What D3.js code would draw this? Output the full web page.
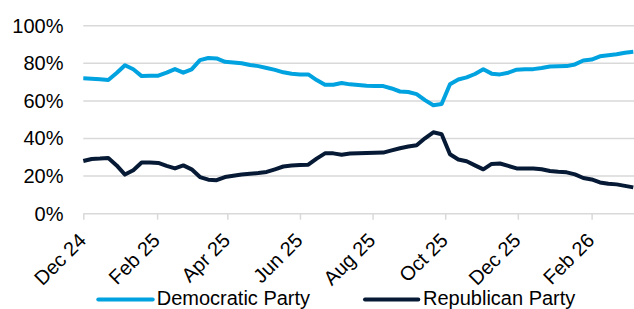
<!DOCTYPE html>
<html>
<head>
<meta charset="utf-8">
<script src="https://cdn.jsdelivr.net/npm/d3@7"></script>
<style>
  html, body { margin: 0; padding: 0; background: #fff; }
  svg { display: block; font-family: "Liberation Sans", Arial, sans-serif; }
</style>
</head>
<body>
<svg id="chart" width="634" height="309"></svg>
<script>
// Weekly observations, first week starting 1 Dec 2024
const startDate = "2024-12-01";
const democratic = [72.0, 71.8, 71.5, 71.1, 74.8, 79.0, 76.8, 73.2, 73.4, 73.4,
  75.0, 76.9, 75.0, 76.8, 81.7, 82.8, 82.6, 80.8, 80.4, 80.0,
  79.1, 78.5, 77.5, 76.5, 75.2, 74.4, 74.1, 74.1, 71.1, 68.6,
  68.6, 69.5, 68.8, 68.4, 68.0, 67.9, 67.9, 66.6, 65.0, 64.7,
  63.6, 60.4, 57.7, 58.3, 68.9, 71.4, 72.5, 74.3, 76.8, 74.5,
  74.1, 75.0, 76.6, 76.8, 76.9, 77.5, 78.3, 78.4, 78.5, 79.4,
  81.5, 82.0, 83.7, 84.3, 84.8, 85.6, 86.1];
const republican = [28.0, 29.1, 29.3, 29.6, 25.7, 20.8, 23.1, 27.2, 27.2, 27.0,
  25.4, 24.1, 25.7, 23.6, 19.5, 18.1, 17.8, 19.5, 20.2, 20.9,
  21.3, 21.6, 22.2, 23.6, 25.1, 25.6, 25.9, 26.1, 29.3, 32.1,
  32.1, 31.4, 32.0, 32.2, 32.3, 32.4, 32.5, 33.7, 34.8, 35.7,
  36.4, 40.1, 43.3, 42.3, 31.6, 28.8, 27.9, 25.7, 23.6, 26.5,
  26.7, 25.4, 24.1, 24.1, 24.1, 23.6, 22.7, 22.3, 22.0, 20.9,
  19.0, 18.2, 16.6, 15.9, 15.6, 14.8, 14.0];
const seriesNames = ["Democratic Party", "Republican Party"];
const seriesColors = ["#00a2df", "#071a35"];
const xTickDates = ["2024-12-01", "2025-02-01", "2025-04-01", "2025-06-01",
  "2025-08-01", "2025-10-01", "2025-12-01", "2026-02-01"];
const xTickLabels = ["Dec 24", "Feb 25", "Apr 25", "Jun 25", "Aug 25", "Oct 25", "Dec 25", "Feb 26"];
const yTicks = [0, 0.2, 0.4, 0.6, 0.8, 1.0];

const parse = d3.utcParse("%Y-%m-%d");
const start = parse(startDate);
const dates = democratic.map((_, i) => d3.utcDay.offset(start, 7 * i));

const svg = d3.select("#chart");
const x = d3.scaleUtc()
  .domain([dates[0], dates[dates.length - 1]])
  .range([83.3, 633.3]);
const y = d3.scaleLinear().domain([0, 1]).range([213.7, 25.7]);

const gridColor = "#d9d9d9";

// gridlines
svg.append("g")
  .selectAll("line")
  .data(yTicks.filter(d => d > 0))
  .join("line")
  .attr("x1", 83.3).attr("x2", 634)
  .attr("y1", d => y(d)).attr("y2", d => y(d))
  .attr("stroke", gridColor).attr("stroke-width", 1.5);

// y axis labels
const yAxis = d3.axisLeft(y).tickValues(yTicks).tickSize(0).tickPadding(0)
  .tickFormat(d3.format(".0%"));
const gy = svg.append("g").attr("transform", "translate(63.5,0)").call(yAxis);
gy.select(".domain").remove();
gy.selectAll("text").attr("font-size", 20).attr("fill", "#000")
  .attr("font-family", "Liberation Sans, Arial, sans-serif");

// x axis
const xAxis = d3.axisBottom(x)
  .tickValues(xTickDates.map(parse))
  .tickSize(6)
  .tickFormat((d, i) => xTickLabels[i]);
const gx = svg.append("g").attr("transform", `translate(0,${y(0)})`).call(xAxis);
gx.select(".domain").attr("d", `M83.3,0H634`).attr("stroke", gridColor).attr("stroke-width", 1.5);
gx.selectAll(".tick line").attr("stroke", gridColor).attr("stroke-width", 1.5);
gx.selectAll("text")
  .attr("font-size", 20).attr("fill", "#000")
  .attr("font-family", "Liberation Sans, Arial, sans-serif")
  .attr("text-anchor", "end")
  .attr("y", 0).attr("dy", 0)
  .attr("transform", "translate(3.5,28) rotate(-45)");

// lines
const series = [democratic, republican];
const line = d3.line()
  .x((d, i) => x(dates[i]))
  .y(d => y(d / 100));
svg.append("g")
  .selectAll("path")
  .data(series)
  .join("path")
  .attr("d", d => line(d))
  .attr("fill", "none")
  .attr("stroke", (d, i) => seriesColors[i])
  .attr("stroke-width", 4)
  .attr("stroke-linejoin", "round");

// legend
const legendItems = [
  { name: seriesNames[0], color: seriesColors[0], x1: 98.3, x2: 152.7, tx: 156.7 },
  { name: seriesNames[1], color: seriesColors[1], x1: 365, x2: 418.3, tx: 423 }
];
const lg = svg.append("g");
legendItems.forEach(it => {
  lg.append("line")
    .attr("x1", it.x1).attr("x2", it.x2)
    .attr("y1", 299.5).attr("y2", 299.5)
    .attr("stroke", it.color).attr("stroke-width", 4).attr("stroke-linecap", "round");
  lg.append("text")
    .attr("x", it.tx).attr("y", 304.5)
    .attr("font-size", 20).attr("fill", "#000")
    .text(it.name);
});
</script>
</body>
</html>
